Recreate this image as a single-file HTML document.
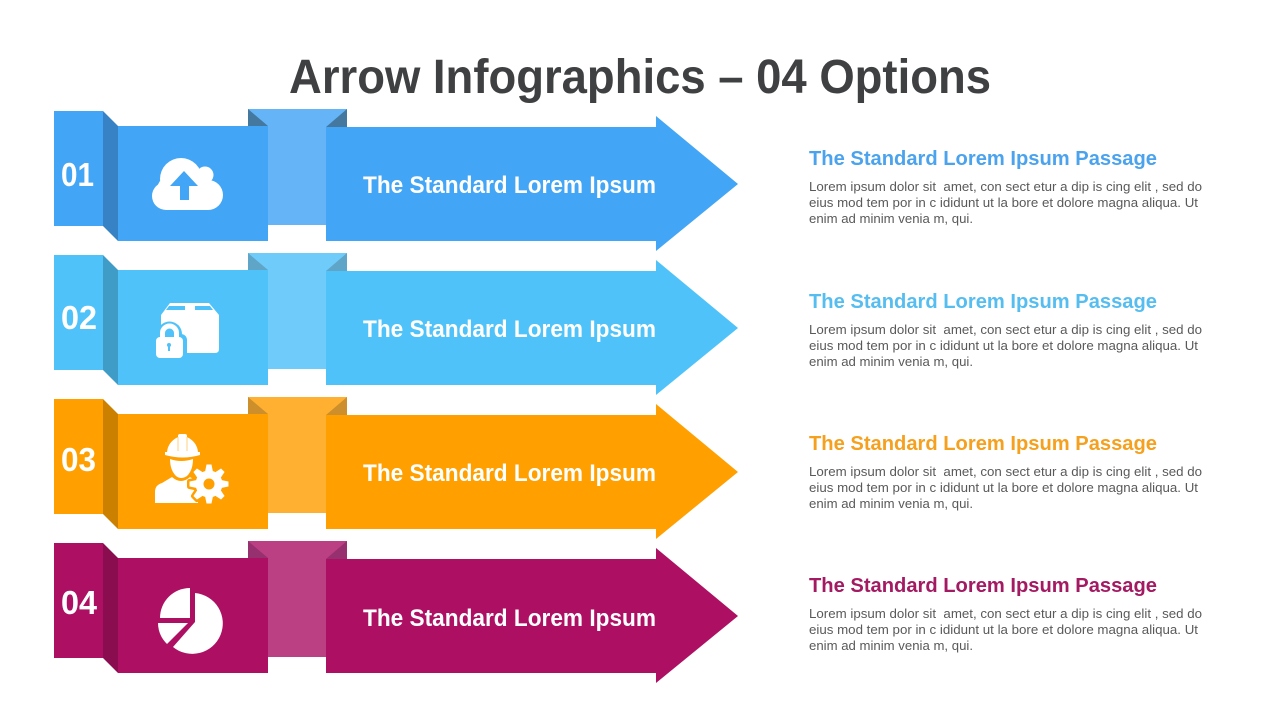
<!DOCTYPE html>
<html lang="en">
<head>
<meta charset="utf-8">
<title>Arrow Infographics – 04 Options</title>
<style>
html,body{margin:0;padding:0;background:#fff;width:1280px;height:720px;overflow:hidden}
svg{display:block}
text{font-family:"Liberation Sans",Arial,sans-serif}
.b{font-weight:bold}
.p{font-size:13px;fill:#595959;white-space:pre}
</style>
</head>
<body>
<svg width="1280" height="720" viewBox="0 0 1280 720" xmlns="http://www.w3.org/2000/svg">
<defs>
<g id="shape">
  <rect x="54" y="111" width="49" height="115"/>
  <rect x="118" y="126" width="150" height="115"/>
  <path d="M326 127H656V116L738 184L656 251V241H326Z"/>
</g>
<path id="fold" d="M103 111L118 126V241L103 226Z"/>
<path id="band" d="M248 109H347V127H326V225H268V126H248Z"/>
<path id="tri" d="M248 109L268 126H248ZM347 109L326 127H347Z"/>
<g id="gear">
  <path d="M-4 -12L-2.5 -19.5H2.5L4 -12Z"/>
  <path d="M-4 -12L-2.5 -19.5H2.5L4 -12Z" transform="rotate(45)"/>
  <path d="M-4 -12L-2.5 -19.5H2.5L4 -12Z" transform="rotate(90)"/>
  <path d="M-4 -12L-2.5 -19.5H2.5L4 -12Z" transform="rotate(135)"/>
  <path d="M-4 -12L-2.5 -19.5H2.5L4 -12Z" transform="rotate(180)"/>
  <path d="M-4 -12L-2.5 -19.5H2.5L4 -12Z" transform="rotate(225)"/>
  <path d="M-4 -12L-2.5 -19.5H2.5L4 -12Z" transform="rotate(270)"/>
  <path d="M-4 -12L-2.5 -19.5H2.5L4 -12Z" transform="rotate(315)"/>
  <circle r="13.5"/>
</g>
</defs>

<text class="b" x="289" y="93" font-size="48" fill="#3f4042" textLength="702" lengthAdjust="spacingAndGlyphs">Arrow Infographics – 04 Options</text>

<!-- light connector bands -->
<use href="#band" fill="#64b4f7"/><use href="#tri" fill="#44789f"/>
<use href="#band" y="144" fill="#6fcbfa"/><use href="#tri" y="144" fill="#5fa5c8"/>
<use href="#band" y="288" fill="#ffb030"/><use href="#tri" y="288" fill="#cc8f2c"/>
<use href="#band" y="432" fill="#bb3f83"/><use href="#tri" y="432" fill="#96306f"/>

<use href="#shape" fill="#42a5f5"/><use href="#fold" fill="#3782c4"/>
<use href="#shape" y="144" fill="#4fc3f9"/><use href="#fold" y="144" fill="#3f9cc7"/>
<use href="#shape" y="288" fill="#ffa000"/><use href="#fold" y="288" fill="#cc8000"/>
<use href="#shape" y="432" fill="#ad1063"/><use href="#fold" y="432" fill="#8a0d4f"/>

<!-- numbers -->
<g font-size="33" fill="#fff">
<text class="b" x="61" y="186" textLength="33" lengthAdjust="spacingAndGlyphs">01</text>
<text class="b" x="61" y="329" textLength="36" lengthAdjust="spacingAndGlyphs">02</text>
<text class="b" x="61" y="471" textLength="35" lengthAdjust="spacingAndGlyphs">03</text>
<text class="b" x="61" y="614" textLength="36" lengthAdjust="spacingAndGlyphs">04</text>
</g>

<!-- arrow labels -->
<g font-size="24" fill="#fff">
<text class="b" x="363" y="193" textLength="293" lengthAdjust="spacingAndGlyphs">The Standard Lorem Ipsum</text>
<text class="b" x="363" y="337" textLength="293" lengthAdjust="spacingAndGlyphs">The Standard Lorem Ipsum</text>
<text class="b" x="363" y="481" textLength="293" lengthAdjust="spacingAndGlyphs">The Standard Lorem Ipsum</text>
<text class="b" x="363" y="626" textLength="293" lengthAdjust="spacingAndGlyphs">The Standard Lorem Ipsum</text>
</g>

<!-- cloud icon -->
<g fill="#fff">
  <circle cx="166" cy="196" r="14"/><circle cx="172" cy="190" r="15"/>
  <circle cx="181" cy="179" r="21"/><circle cx="205" cy="175" r="8.5"/>
  <circle cx="208" cy="195" r="15"/><circle cx="198" cy="188" r="14"/>
  <rect x="166" y="185" width="42" height="25"/>
</g>
<path d="M184 171L170 186H180V200H189V186H198Z" fill="#42a5f5"/>

<!-- box + lock icon -->
<path d="M170 303H209L219 315V349Q219 353 215 353H165Q161 353 161 349V315Z" fill="#fff"/>
<path d="M169 306H185V310H166ZM195 306H210L213 310H195Z" fill="#4fc3f9"/>
<circle cx="169.5" cy="334" r="12.5" fill="#4fc3f9"/>
<rect x="152" y="334" width="35" height="27" rx="6" fill="#4fc3f9"/>
<path d="M162.5 338V333a7 7 0 0 1 14 0V338" fill="none" stroke="#fff" stroke-width="5"/>
<rect x="156" y="337" width="27" height="21" rx="4" fill="#fff"/>
<circle cx="169" cy="345" r="2" fill="#4fc3f9"/>
<rect x="168" y="345" width="2" height="6" fill="#4fc3f9"/>

<!-- worker + gear icon -->
<g fill="#fff">
  <path d="M167 452Q168 442 178 437V436Q178 434 180 434H185Q187 434 187 436V437Q197 442 198 452Z"/>
  <path d="M165 452H200V455Q183 460 165 455Z"/>
  <path d="M170 459Q181 463 193 459Q193 470 187 476Q181 480 176 476Q170 470 170 459Z"/>
  <path d="M155 503V492Q155 485 162 483L172 477Q181 485 190 477L198 482V503Z"/>
</g>
<path d="M178 437V451M187 437V451" fill="none" stroke="#ffa000" stroke-width="1" stroke-opacity=".5"/>
<g transform="translate(209 484)">
  <use href="#gear" fill="#ffa000" stroke="#ffa000" stroke-width="5" stroke-linejoin="round"/>
  <use href="#gear" fill="#fff"/>
  <circle r="5.5" fill="#ffa000"/>
</g>

<!-- pie icon -->
<g fill="#fff">
  <path d="M195 593A30.5 30.5 0 1 1 173 647L195 622Z"/>
  <path d="M190 588V618H160A30 30 0 0 1 190 588Z"/>
  <path d="M158 623H188L167 644A30 30 0 0 1 158 623Z"/>
</g>

<!-- right-hand copy -->
<text class="b" x="809" y="165" font-size="20" fill="#4ba3ee" textLength="348" lengthAdjust="spacingAndGlyphs">The Standard Lorem Ipsum Passage</text>
<text class="p" x="809" y="191" textLength="393" lengthAdjust="spacingAndGlyphs">Lorem ipsum dolor sit  amet, con sect etur a dip is cing elit , sed do</text>
<text class="p" x="809" y="207" textLength="389" lengthAdjust="spacingAndGlyphs">eius mod tem por in c ididunt ut la bore et dolore magna aliqua. Ut</text>
<text class="p" x="809" y="223" textLength="164" lengthAdjust="spacingAndGlyphs">enim ad minim venia m, qui.</text>

<text class="b" x="809" y="308" font-size="20" fill="#55bdf0" textLength="348" lengthAdjust="spacingAndGlyphs">The Standard Lorem Ipsum Passage</text>
<text class="p" x="809" y="334" textLength="393" lengthAdjust="spacingAndGlyphs">Lorem ipsum dolor sit  amet, con sect etur a dip is cing elit , sed do</text>
<text class="p" x="809" y="350" textLength="389" lengthAdjust="spacingAndGlyphs">eius mod tem por in c ididunt ut la bore et dolore magna aliqua. Ut</text>
<text class="p" x="809" y="366" textLength="164" lengthAdjust="spacingAndGlyphs">enim ad minim venia m, qui.</text>

<text class="b" x="809" y="450" font-size="20" fill="#f5a01e" textLength="348" lengthAdjust="spacingAndGlyphs">The Standard Lorem Ipsum Passage</text>
<text class="p" x="809" y="476" textLength="393" lengthAdjust="spacingAndGlyphs">Lorem ipsum dolor sit  amet, con sect etur a dip is cing elit , sed do</text>
<text class="p" x="809" y="492" textLength="389" lengthAdjust="spacingAndGlyphs">eius mod tem por in c ididunt ut la bore et dolore magna aliqua. Ut</text>
<text class="p" x="809" y="508" textLength="164" lengthAdjust="spacingAndGlyphs">enim ad minim venia m, qui.</text>

<text class="b" x="809" y="592" font-size="20" fill="#a31a63" textLength="348" lengthAdjust="spacingAndGlyphs">The Standard Lorem Ipsum Passage</text>
<text class="p" x="809" y="618" textLength="393" lengthAdjust="spacingAndGlyphs">Lorem ipsum dolor sit  amet, con sect etur a dip is cing elit , sed do</text>
<text class="p" x="809" y="634" textLength="389" lengthAdjust="spacingAndGlyphs">eius mod tem por in c ididunt ut la bore et dolore magna aliqua. Ut</text>
<text class="p" x="809" y="650" textLength="164" lengthAdjust="spacingAndGlyphs">enim ad minim venia m, qui.</text>
</svg>
</body>
</html>
